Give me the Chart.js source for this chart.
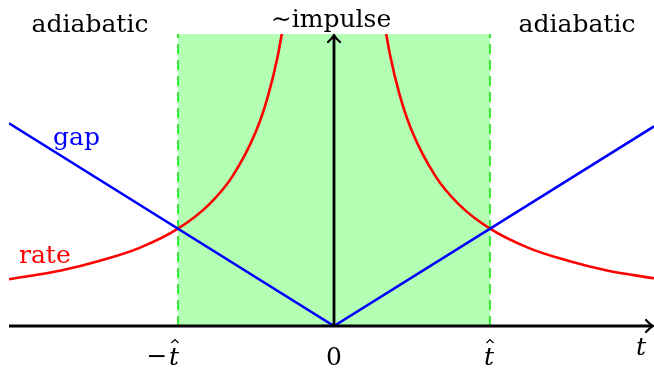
<!DOCTYPE html>
<html>
<head>
<meta charset="utf-8">
<script src="https://cdn.jsdelivr.net/npm/chart.js@4.4.1/dist/chart.umd.min.js"></script>
<style>
  html, body { margin: 0; padding: 0; background: #fff; }
  #wrap { width: 654px; height: 374px; }
</style>
</head>
<body>
<div id="wrap"><canvas id="grafica" width="654" height="374"></canvas></div>
<script>
// valores (t en unidades de t-hat)
const tMin = -2.083;
const tMax = 2.051;
const gapT = [-2.083, 0, 2.051];
const gapValues = [2.083, 0, 2.051];
const rateLeftT = [-2.083, -1.75, -1.5, -1.25, -1.0, -0.8, -0.65, -0.5, -0.42, -0.36, -0.31];
const rateLeftValues = [0.48, 0.57, 0.67, 0.80, 1.0, 1.25, 1.54, 2.0, 2.38, 2.78, 3.23];
const rateRightT = [0.31, 0.36, 0.42, 0.5, 0.65, 0.8, 1.0, 1.25, 1.5, 1.75, 2.051];
const rateRightValues = [3.23, 2.78, 2.38, 2.0, 1.54, 1.25, 1.0, 0.80, 0.67, 0.57, 0.49];
const impulseT = [-1, 1];
const yMax = 3;
const tickValues = [-1, 0, 1];
const tickLabels = ['−t', '0', 't'];
const regionLabels = ['adiabatic', '∼impulse', 'adiabatic'];

const serif = '"DejaVu Serif", "Liberation Serif", serif';

const toPoints = (xs, ys) => xs.map((x, i) => ({ x: x, y: ys[i] }));

// ejes, flechas y textos
const decoraciones = {
    id: 'decoraciones',
    afterDatasetsDraw(chart) {
        const { ctx, scales: { x, y } } = chart;
        const x0 = x.getPixelForValue(0);
        const y0 = y.getPixelForValue(0);
        const xl = x.getPixelForValue(tMin);
        const xr = 653;
        const yt = y.getPixelForValue(yMax) + 1;

        ctx.save();
        ctx.strokeStyle = '#000';
        ctx.lineWidth = 2.8;
        ctx.lineCap = 'butt';
        ctx.beginPath();
        ctx.moveTo(xl, y0);
        ctx.lineTo(xr - 1, y0);
        ctx.moveTo(x0, y0);
        ctx.lineTo(x0, yt + 1);
        ctx.stroke();

        // puntas de flecha
        ctx.lineWidth = 2.2;
        ctx.lineCap = 'round';
        ctx.lineJoin = 'round';
        ctx.beginPath();
        ctx.moveTo(xr - 7, y0 - 6);
        ctx.quadraticCurveTo(xr - 3, y0 - 1.5, xr, y0);
        ctx.quadraticCurveTo(xr - 3, y0 + 1.5, xr - 7, y0 + 6);
        ctx.moveTo(x0 - 6, yt + 7);
        ctx.quadraticCurveTo(x0 - 1.5, yt + 3, x0, yt);
        ctx.quadraticCurveTo(x0 + 1.5, yt + 3, x0 + 6, yt + 7);
        ctx.stroke();
        ctx.restore();
    },
    afterDraw(chart) {
        const { ctx, scales: { x } } = chart;
        ctx.save();
        ctx.textBaseline = 'alphabetic';
        ctx.font = '25px ' + serif;
        ctx.fillStyle = '#000';

        ctx.textAlign = 'center';
        ctx.fillText(regionLabels[0], 90, 32);
        ctx.fillText(regionLabels[1], x.getPixelForValue(0) - 3, 27);
        ctx.fillText(regionLabels[2], 577, 32);

        ctx.textAlign = 'left';
        ctx.fillStyle = '#0000ff';
        ctx.fillText('gap', 53, 145);
        ctx.fillStyle = '#ff0000';
        ctx.fillText('rate', 19, 263);

        // etiquetas del eje t
        ctx.fillStyle = '#000';
        ctx.strokeStyle = '#000';
        const base = 365;
        const hatT = (cx) => {
            ctx.font = 'italic 25px ' + serif;
            ctx.textAlign = 'center';
            ctx.fillText('t', cx, base);
            ctx.lineWidth = 1.2;
            ctx.beginPath();
            ctx.moveTo(cx - 2.5, 343);
            ctx.lineTo(cx + 1, 339.5);
            ctx.lineTo(cx + 4.5, 343);
            ctx.stroke();
        };
        tickValues.forEach((v, i) => {
            const px = x.getPixelForValue(v);
            if (tickLabels[i] === '0') {
                ctx.font = '25px ' + serif;
                ctx.textAlign = 'center';
                ctx.fillText('0', px, base);
            } else if (tickLabels[i].startsWith('−')) {
                ctx.font = '25px ' + serif;
                ctx.textAlign = 'center';
                ctx.fillText('−', px - 21, base - 1);
                hatT(px - 4);
            } else {
                hatT(px - 1);
            }
        });
        ctx.font = 'italic 25px ' + serif;
        ctx.textAlign = 'center';
        ctx.fillText('t', 641, 355);
        ctx.restore();
    }
};

const grafica = new Chart(document.getElementById('grafica'), {
    type: 'line',
    data: {
        datasets: [
            {
                label: 'impulse',
                data: toPoints(impulseT, [yMax, yMax]),
                fill: 'origin',
                backgroundColor: '#b3ffb3',
                borderWidth: 0,
                pointRadius: 0,
                order: 10
            },
            {
                label: 'borde izq',
                data: toPoints([impulseT[0], impulseT[0]], [0, yMax]),
                borderColor: '#00e600',
                borderWidth: 1.5,
                borderDash: [10, 6],
                pointRadius: 0,
                fill: false,
                order: 9
            },
            {
                label: 'borde der',
                data: toPoints([impulseT[1], impulseT[1]], [0, yMax]),
                borderColor: '#00e600',
                borderWidth: 1.5,
                borderDash: [10, 6],
                pointRadius: 0,
                fill: false,
                order: 9
            },
            {
                label: 'gap',
                data: toPoints(gapT, gapValues),
                borderColor: '#0000ff',
                borderWidth: 2.6,
                pointRadius: 0,
                fill: false,
                order: 1
            },
            {
                label: 'rate izq',
                data: toPoints(rateLeftT, rateLeftValues),
                borderColor: '#ff0000',
                borderWidth: 2.6,
                pointRadius: 0,
                fill: false,
                cubicInterpolationMode: 'monotone',
                order: 2
            },
            {
                label: 'rate der',
                data: toPoints(rateRightT, rateRightValues),
                borderColor: '#ff0000',
                borderWidth: 2.6,
                pointRadius: 0,
                fill: false,
                cubicInterpolationMode: 'monotone',
                order: 2
            }
        ]
    },
    options: {
        responsive: false,
        maintainAspectRatio: false,
        devicePixelRatio: 1,
        animation: false,
        layout: { padding: { left: 9, right: 0, top: 34, bottom: 48 } },
        plugins: {
            legend: { display: false },
            tooltip: { enabled: false },
            title: { display: false }
        },
        scales: {
            x: { type: 'linear', min: tMin, max: tMax, display: false },
            y: { type: 'linear', min: 0, max: yMax, display: false }
        }
    },
    plugins: [decoraciones]
});
</script>
</body>
</html>
